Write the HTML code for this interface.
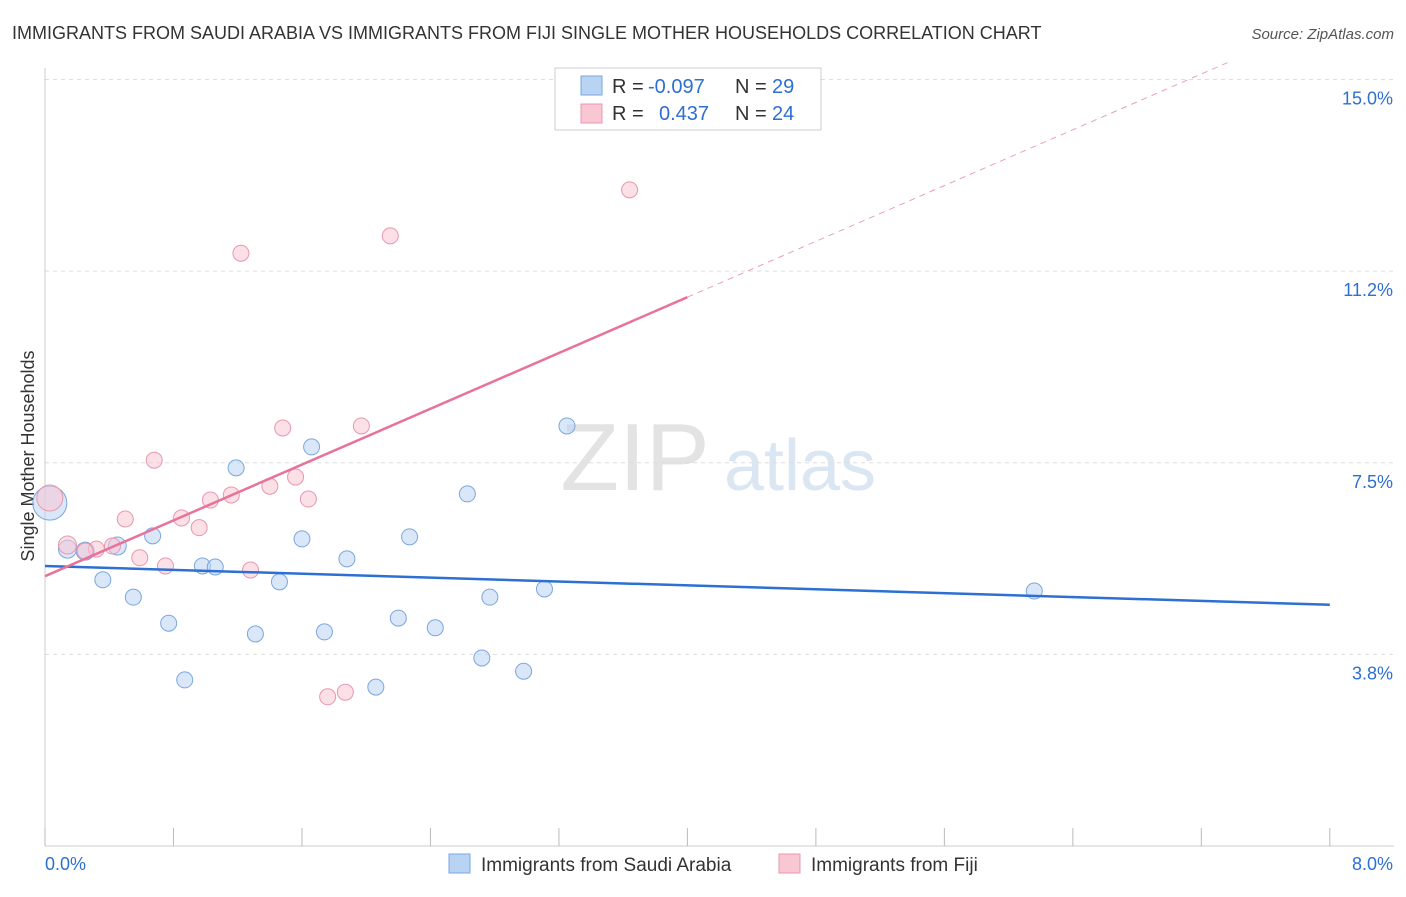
<!DOCTYPE html>
<html><head><meta charset="utf-8"><style>
body{margin:0;background:#fff;font-family:"Liberation Sans",sans-serif;}
svg text{font-family:"Liberation Sans",sans-serif;}
</style></head><body>
<svg id="c" width="1406" height="892" xmlns="http://www.w3.org/2000/svg">
<text x="12" y="39" font-size="18" fill="#333">IMMIGRANTS FROM SAUDI ARABIA VS IMMIGRANTS FROM FIJI SINGLE MOTHER HOUSEHOLDS CORRELATION CHART</text>
<text x="1394" y="39" font-size="15" fill="#555" font-style="italic" text-anchor="end">Source: ZipAtlas.com</text>
<text x="635" y="490" font-size="96" fill="#e3e3e3" font-family="Liberation Serif" text-anchor="middle">ZIP</text>
<text x="800" y="490" font-size="72" fill="#dbe6f3" text-anchor="middle">atlas</text>
<text transform="translate(34,456) rotate(-90)" font-size="18" fill="#333" text-anchor="middle">Single Mother Households</text>
<g id="grid"></g><g id="marks"></g>
<g>
<rect x="555" y="68" width="266" height="62" fill="#fff" stroke="#ccc"/>
<rect x="581" y="76" width="21" height="19" fill="#b9d3f3" stroke="#7aa6de"/>
<rect x="581" y="104" width="21" height="19" fill="#f9c6d4" stroke="#e897ad"/>
<text x="612" y="93" font-size="20" fill="#333">R = </text><text x="648" y="93" font-size="20" fill="#2d6fd2">-0.097</text>
<text x="735" y="93" font-size="20" fill="#333">N = </text><text x="772" y="93" font-size="20" fill="#2d6fd2">29</text>
<text x="612" y="120" font-size="20" fill="#333">R = </text><text x="659" y="120" font-size="20" fill="#2d6fd2">0.437</text>
<text x="735" y="120" font-size="20" fill="#333">N = </text><text x="772" y="120" font-size="20" fill="#2d6fd2">24</text>
</g>
<g>
<rect x="449" y="854" width="21" height="19" fill="#b9d3f3" stroke="#7aa6de"/>
<text x="481" y="871" font-size="19" fill="#333">Immigrants from Saudi Arabia</text>
<rect x="779" y="854" width="21" height="19" fill="#f9c6d4" stroke="#e897ad"/>
<text x="811" y="871" font-size="19" fill="#333">Immigrants from Fiji</text>
</g>
</svg>
<script>
const yTicks=[15.0,11.25,7.5,3.75];
const yTickLabels=["15.0%","11.2%","7.5%","3.8%"];
const xTickLabels=["0.0%","8.0%"];
const saudiX=[0.14,0.25,0.45,0.36,0.55,0.67,0.77,0.87,0.98,1.06,1.19,1.31,1.46,1.60,1.66,1.74,1.88,2.06,2.20,2.27,2.43,2.63,2.72,2.77,2.98,3.11,3.25,6.16,0.03];
const saudiY=[5.81,5.77,5.87,5.21,4.87,6.07,4.36,3.25,5.48,5.46,7.40,4.15,5.17,6.01,7.81,4.19,5.62,3.11,4.46,6.05,4.27,6.89,3.68,4.87,3.42,5.03,8.22,4.99,6.71];
const saudiR=[9,9,9,8,8,8,8,8,8,8,8,8,8,8,8,8,8,8,8,8,8,8,8,8,8,8,8,8,17];
const fijiX=[0.03,0.14,0.32,0.42,0.50,0.59,0.68,0.75,0.85,0.96,1.03,1.16,1.22,1.28,1.40,1.48,1.56,1.64,1.76,1.87,1.97,2.15,3.64,0.25];
const fijiY=[6.81,5.89,5.81,5.87,6.40,5.64,7.55,5.48,6.42,6.23,6.77,6.87,11.6,5.40,7.04,8.18,7.22,6.79,2.92,3.01,8.22,11.94,12.84,5.77];
const fijiR=[13,9,8,8,8,8,8,8,8,8,8,8,8,8,8,8,8,8,8,8,8,8,8,8];
const saudiLine=[5.48,4.72];
const fijiLine=[5.28,1.365];
const X=v=>45+v*160.6, Y=v=>846-v*51.1;
const NS="http://www.w3.org/2000/svg";
function mk(tag,attrs,parent){const e=document.createElementNS(NS,tag);for(const k in attrs)e.setAttribute(k,attrs[k]);parent.appendChild(e);return e;}
const grid=document.getElementById('grid'), marks=document.getElementById('marks');
yTicks.forEach((t,i)=>{
 const l=mk('line',{x1:45,x2:1394,y1:Y(t),y2:Y(t),stroke:'#ddd','stroke-dasharray':'4,4'},grid);
 
 
 const tx=mk('text',{x:1393,y:Y(t)+25,'font-size':18,fill:'#2d6fd2','text-anchor':'end'},grid);
 tx.textContent=yTickLabels[i];
 
 
});
const ax=mk('line',{x1:45,x2:45,y1:68,y2:846,stroke:'#ccc'},grid);


const bx=mk('line',{x1:45,x2:1394,y1:846,y2:846,stroke:'#ccc'},grid);


for(let i=0;i<=10;i++){const t=mk('line',{x1:X(i*0.8),x2:X(i*0.8),y1:828,y2:846,stroke:'#bbb'},grid);
 
 }
[[0,45,'start'],[8,1393,'end']].forEach((a,i)=>{const t=mk('text',{x:a[1],y:870,'font-size':18,fill:'#2d6fd2','text-anchor':a[2]},grid);t.textContent=xTickLabels[i];
 
 });
function pts(xs,ys,rs,fill,stroke,name){xs.forEach((x,i)=>{const c=mk('circle',{cx:X(x),cy:Y(ys[i]),r:rs[i],fill:fill,'fill-opacity':0.55,stroke:stroke,'stroke-width':1},marks);
 
 });}
pts(saudiX,saudiY,saudiR,'#b9d3f3','#7aa6de','saudi-point');
pts(fijiX,fijiY,fijiR,'#f9c6d4','#e897ad','fiji-point');
const bl=mk('line',{x1:X(0),y1:Y(saudiLine[0]),x2:X(8),y2:Y(saudiLine[1]),stroke:'#2d6fd2','stroke-width':2.5},marks);


const fl=mk('line',{x1:X(0),y1:Y(fijiLine[0]),x2:X(4),y2:Y(fijiLine[0]+4*fijiLine[1]),stroke:'#e8739a','stroke-width':2.5},marks);


const xe=(15.35-fijiLine[0])/fijiLine[1];
const fd=mk('line',{x1:X(4),y1:Y(fijiLine[0]+4*fijiLine[1]),x2:X(xe),y2:Y(15.35),stroke:'#e8a0b8','stroke-width':1,'stroke-dasharray':'6,5'},marks);


</script>
</body></html>
